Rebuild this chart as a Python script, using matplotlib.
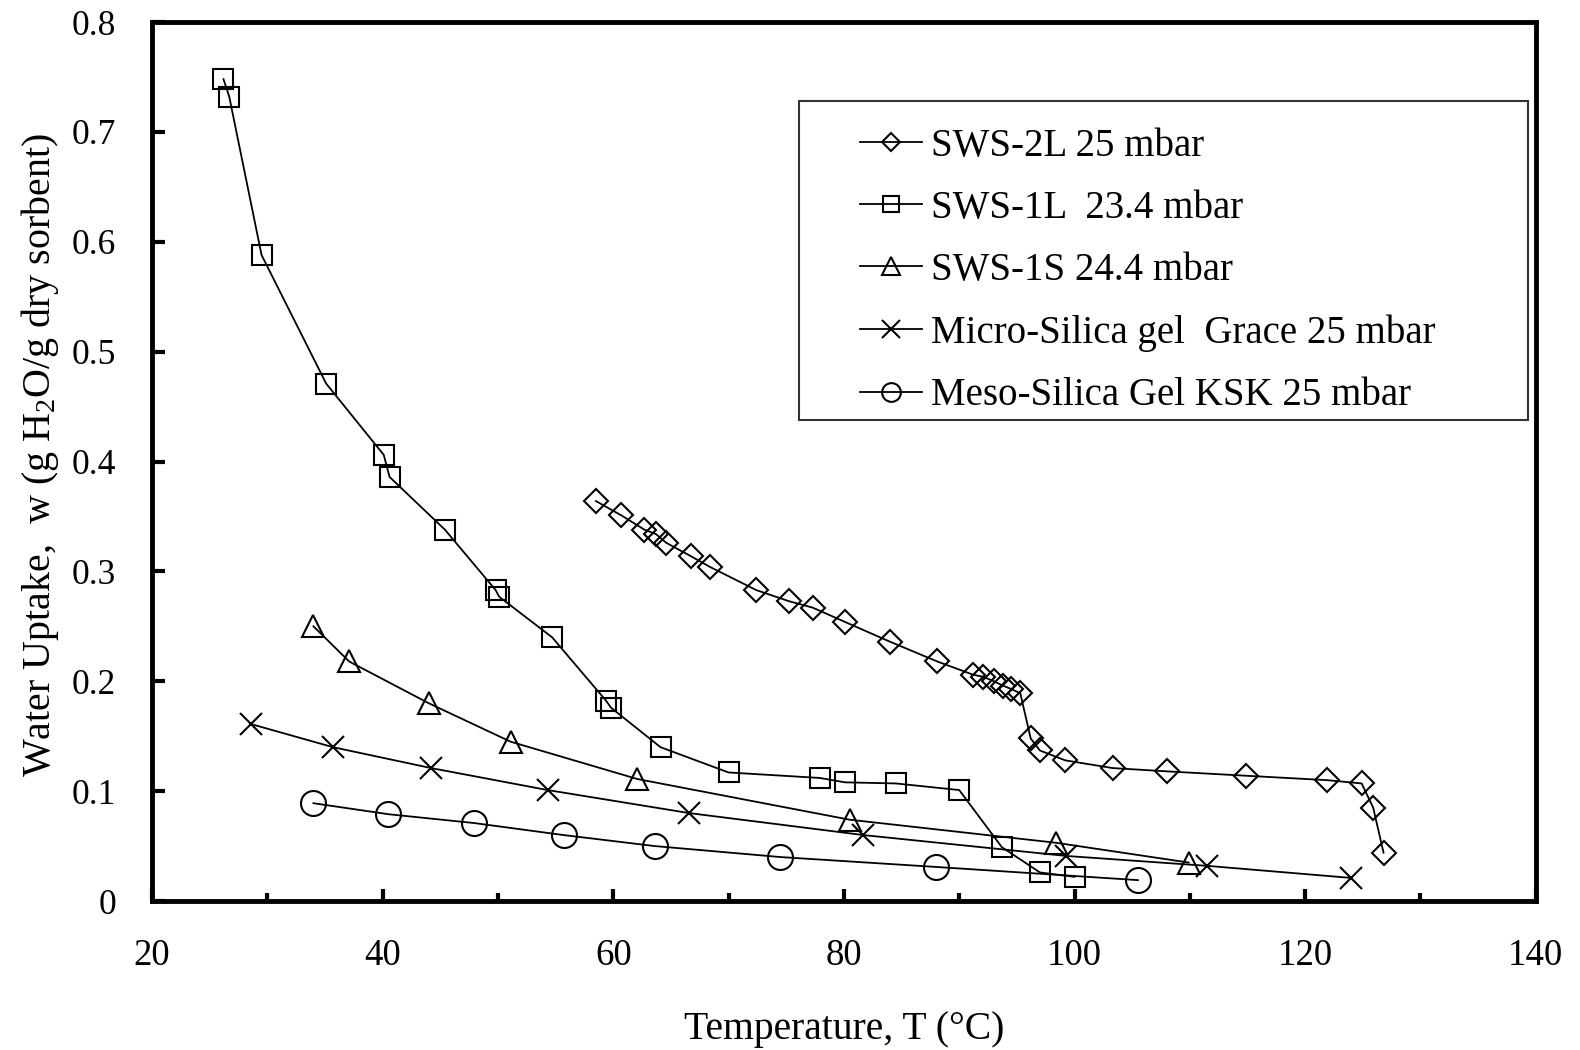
import matplotlib
matplotlib.use("Agg")
import matplotlib.pyplot as plt
from matplotlib.patches import Rectangle
from matplotlib.ticker import MultipleLocator

plt.rcParams["font.family"] = ["Liberation Serif", "DejaVu Serif"]
plt.rcParams["mathtext.fontset"] = "custom"
plt.rcParams["mathtext.rm"] = "Liberation Serif"
plt.rcParams["mathtext.it"] = "Liberation Serif:italic"

# SWS-2L 25 mbar
t_sws2l = [58.5, 60.7, 62.7, 63.7, 64.6, 66.7, 68.4, 72.4, 75.2, 77.3, 80.1, 84.0,
           88.1, 91.2, 92.1, 93.0, 93.8, 94.5, 95.3, 96.2, 97.0, 99.2, 103.3, 108.0,
           114.9, 121.9, 124.9, 125.9, 126.8]
w_sws2l = [0.364, 0.351, 0.338, 0.334, 0.326, 0.314, 0.304, 0.283, 0.273, 0.267, 0.254, 0.236,
           0.218, 0.206, 0.204, 0.200, 0.196, 0.193, 0.189, 0.148, 0.137, 0.128, 0.121, 0.118,
           0.114, 0.110, 0.107, 0.085, 0.044]

# SWS-1L 23.4 mbar
t_sws1l = [26.2, 26.7, 29.5, 35.1, 40.1, 40.6, 45.4, 49.8, 50.1, 54.7, 59.4, 59.8,
           64.1, 70.0, 77.9, 80.1, 84.5, 90.0, 93.7, 97.0, 100.0]
w_sws1l = [0.748, 0.732, 0.588, 0.471, 0.406, 0.386, 0.338, 0.283, 0.277, 0.240, 0.182, 0.176,
           0.140, 0.117, 0.112, 0.108, 0.107, 0.101, 0.049, 0.026, 0.022]

# SWS-1S 24.4 mbar
t_sws1s = [34.0, 37.1, 44.0, 51.1, 62.1, 80.5, 98.4, 109.9]
w_sws1s = [0.250, 0.218, 0.180, 0.145, 0.111, 0.074, 0.053, 0.035]

# Micro-silica gel Grace 25 mbar
t_micro = [28.6, 35.7, 44.2, 54.3, 66.6, 81.7, 99.3, 111.5, 124.0]
w_micro = [0.161, 0.140, 0.121, 0.101, 0.080, 0.060, 0.041, 0.032, 0.021]

# Meso-silica gel KSK 25 mbar
t_meso = [34.0, 40.5, 47.9, 55.7, 63.6, 74.5, 88.0, 105.5]
w_meso = [0.089, 0.079, 0.071, 0.060, 0.050, 0.040, 0.031, 0.019]

yticks = [0, 0.1, 0.2, 0.3, 0.4, 0.5, 0.6, 0.7, 0.8]
ytick_labels = ["0", "0.1", "0.2", "0.3", "0.4", "0.5", "0.6", "0.7", "0.8"]

series = [
    (t_sws2l, w_sws2l, "D", 12.5, "SWS-2L 25 mbar"),
    (t_sws1l, w_sws1l, "s", 15, "SWS-1L  23.4 mbar"),
    (t_sws1s, w_sws1s, "^", 16.5, "SWS-1S 24.4 mbar"),
    (t_micro, w_micro, "x", 16.5, "Micro-Silica gel  Grace 25 mbar"),
    (t_meso, w_meso, "o", 18, "Meso-Silica Gel KSK 25 mbar"),
]

fig = plt.figure(figsize=(15.8, 10.5), dpi=100)
ax = fig.add_axes([0.0962, 0.1419, 0.8758, 0.8371])

for t, w, m, ms, lab in series:
    ax.plot(t, w, color="black", lw=1.3, marker=m, ms=ms, mfc="none",
            mec="black", mew=1.5, label=lab)

ax.set_xlim(20, 140)
ax.set_ylim(0, 0.8)
ax.xaxis.set_major_locator(MultipleLocator(20))
ax.xaxis.set_minor_locator(MultipleLocator(10))
ax.set_yticks(yticks)
ax.set_yticklabels(ytick_labels)

for sp in ax.spines.values():
    sp.set_linewidth(3.5)
ax.tick_params(axis="both", which="major", direction="in", length=9, width=3)
ax.tick_params(axis="x", which="major", labelsize=26.5, pad=27)
ax.tick_params(axis="x", which="minor", direction="in", length=6, width=3)
ax.tick_params(axis="y", which="major", labelsize=25.5, pad=26)
ax.tick_params(top=False, right=False)

ax.set_xlabel("Temperature, T (°C)", fontsize=28.5, labelpad=27)
ax.set_ylabel("Water Uptake,  w (g H$_2$O/g dry sorbent)", fontsize=28.8)
ax.yaxis.set_label_coords(-0.066, 0.508)

# legend box drawn separately so it can be wider than its entries
ax.add_patch(Rectangle((0.4675, 0.547), 0.5267, 0.363, transform=ax.transAxes,
                       fill=False, edgecolor="#333333", lw=1.5, zorder=4))
leg = ax.legend(loc="upper left", bbox_to_anchor=(0.5116, 0.880), fontsize=28,
                frameon=False, borderpad=0, borderaxespad=0,
                labelspacing=0.65, handlelength=1.6, handletextpad=0.23,
                markerscale=0.75)

fig.savefig("out.png", dpi=100)
